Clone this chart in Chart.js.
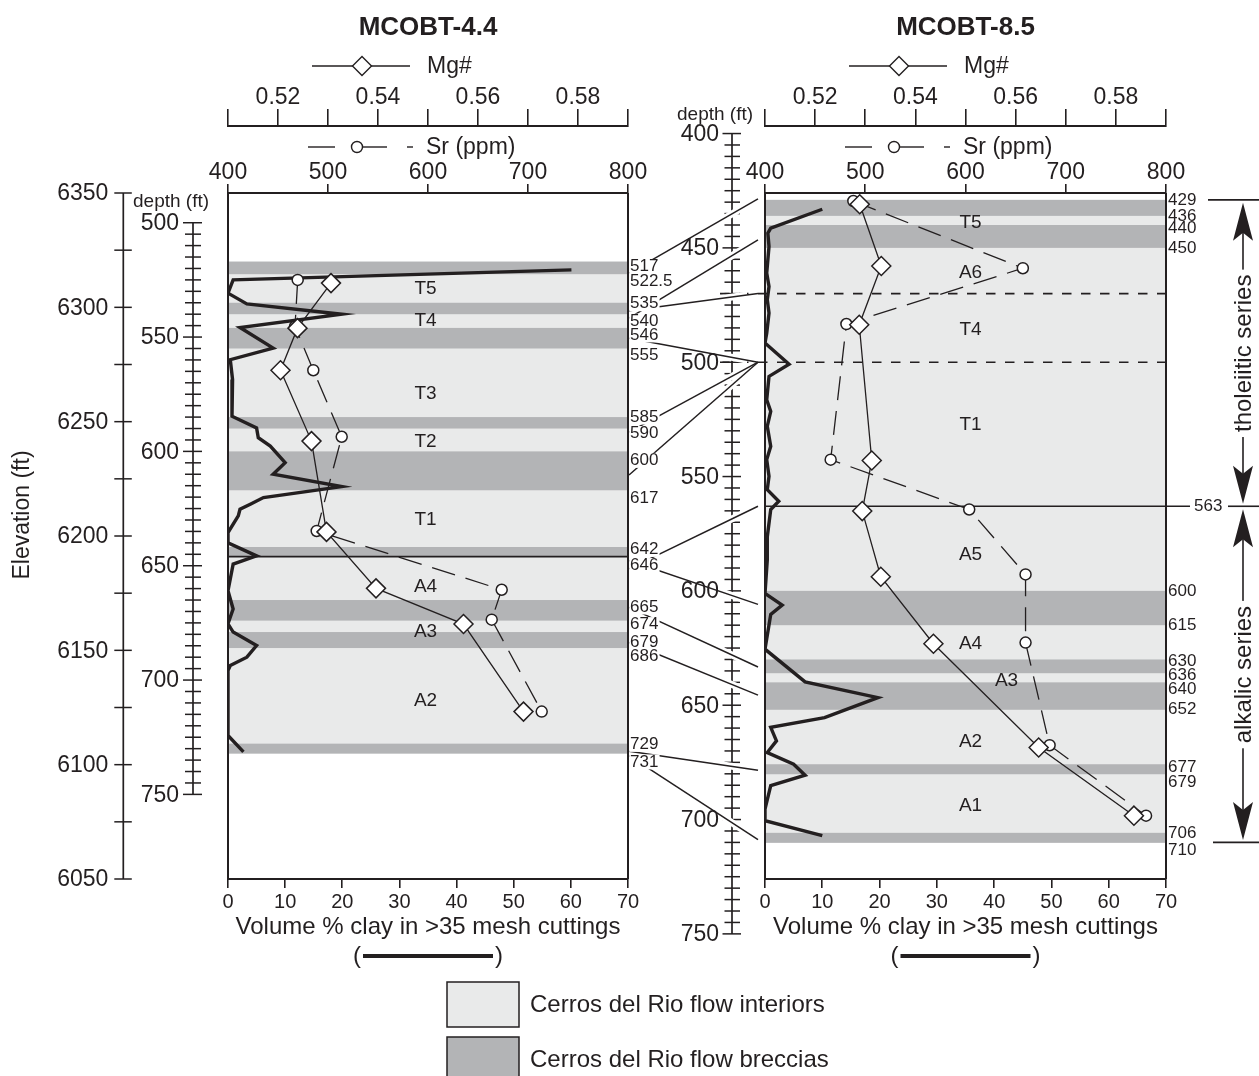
<!DOCTYPE html>
<html>
<head>
<meta charset="utf-8">
<script src="https://cdn.jsdelivr.net/npm/chart.js@4.4.1/dist/chart.umd.min.js"></script>
<style>
  html, body { margin: 0; padding: 0; background: #fff; }
  #wrap { position: relative; width: 1259px; height: 1076px; overflow: hidden; }
  #wrap canvas { position: absolute; left: 0; top: 0; }
</style>
</head>
<body>
<div id="wrap">
  <canvas id="well85" width="1259" height="1076"></canvas>
  <canvas id="well44" width="1259" height="1076"></canvas>
</div>
<script>
const INK = '#231f20';
const LIGHT = '#e9eaea';
const DARK = '#b3b4b6';
const FONT = '"Liberation Sans", Arial, Helvetica, sans-serif';

// ---------- shared tick labels ----------
const mgTickLabels = ['0.52', '0.54', '0.56', '0.58'];
const srTickLabels = ['400', '500', '600', '700', '800'];
const clayTickLabels = ['0', '10', '20', '30', '40', '50', '60', '70'];
const elevTickLabels = [6350, 6300, 6250, 6200, 6150, 6100, 6050];
const depthTickLabels44 = [500, 550, 600, 650, 700, 750];
const depthTickLabels85 = [400, 450, 500, 550, 600, 650, 700, 750];

// ---------- MCOBT-4.4 ----------
const w44ClayDepth = [520.6, 525.0, 530.8, 535.5, 540.0, 545.8, 554.8, 559.9, 568.6, 584.6, 589.7, 594.0,
  597.7, 604.9, 610.0, 615.4, 620.2, 623.1, 625.3, 628.2, 635.5, 640.0, 645.7, 649.3, 655.8, 660.9,
  668.9, 675.4, 679.0, 684.9, 690.0, 693.6, 695.8, 724.2, 731.4];
const w44Clay = [60.1, 0.9, 0, 3.3, 19.9, 2.1, 7.9, 0.4, 0.8, 0.7, 5.0, 5.3,
  7.4, 10.0, 7.9, 19.9, 6.2, 3.9, 2.1, 1.8, 0, 0, 5.0, 0.9, 0.4, 0,
  0.9, 0, 0.9, 5.0, 3.3, 0.4, 0, 0, 2.7];
const w44MgDepth = [526.4, 546.1, 564.5, 595.5, 635.2, 659.9, 675.5, 713.8];
const w44Mg = [0.5306, 0.5239, 0.5205, 0.5267, 0.5297, 0.5396, 0.5571, 0.5691];
const w44SrDepth = [525.0, 545.4, 564.5, 593.6, 634.8, 660.5, 673.6, 713.8];
const w44Sr = [469.7, 467.0, 485.3, 513.7, 488.7, 673.7, 663.7, 713.7];
const w44FlowSpan = [517, 731];
const w44BrecciaTop = [517, 535, 546, 585, 600, 642, 665, 679, 729];
const w44BrecciaBase = [522.5, 540, 555, 590, 617, 646, 674, 686, 731];
const w44ContactLabels = ['517', '522.5', '535', '540', '546', '555', '585', '590', '600', '617',
  '642', '646', '665', '674', '679', '686', '729', '731'];
const w44Units = ['T5', 'T4', 'T3', 'T2', 'T1', 'A4', 'A3', 'A2'];
const w44UnitDepth = [529, 543, 575, 596, 630, 659, 679, 709];
const w44SeriesContact = 646;

// ---------- MCOBT-8.5 ----------
const w85ClayDepth = [433.1, 441.4, 443.6, 449.4, 461.0, 466.9, 472.7, 478.5, 487.3, 491.6, 500.9, 506.2,
  516.4, 521.5, 528.0, 536.8, 542.6, 549.9, 555.7, 560.8, 564.4, 576.3, 586.5, 601.1, 606.2, 610.3,
  625.5, 639.8, 646.7, 655.4, 659.7, 665.6, 670.7, 675.8, 680.6, 685.2, 695.4, 700.5, 707.0];
const w85Clay = [10.0, 1.0, 0.5, 0.7, 0.3, 0.7, 0.4, 0.7, 0.3, 0, 4.2, 0.7,
  0.3, 1.0, 0.4, 1.0, 0.3, 0.7, 0.4, 2.4, 1.0, 0.4, 0.4, 0, 3.0, 1.0,
  0, 7.0, 19.7, 10.4, 1.0, 2.0, 0.4, 5.0, 7.0, 1.0, 0, 0, 10.0];
const w85MgDepth = [430.9, 457.9, 483.6, 543.0, 565.1, 593.8, 623.1, 668.5, 698.3];
const w85Mg = [0.5289, 0.5332, 0.5288, 0.5313, 0.5294, 0.5331, 0.5436, 0.5646, 0.5836];
const w85SrDepth = [429.5, 458.9, 483.3, 542.6, 564.4, 592.8, 622.6, 667.5, 698.3];
const w85Sr = [488.1, 657.2, 481.2, 465.5, 603.7, 659.9, 659.9, 683.9, 780.1];
const w85FlowSpan = [429, 710];
const w85BrecciaTop = [429, 440, 600, 630, 640, 677, 706];
const w85BrecciaBase = [436, 450, 615, 636, 652, 679, 710];
const w85ContactLabels = ['429', '436', '440', '450', '600', '615', '630', '636', '640', '652',
  '677', '679', '706', '710'];
const w85Units = ['T5', 'A6', 'T4', 'T1', 'A5', 'A4', 'A3', 'A2', 'A1'];
const w85UnitDepth = [439, 461, 486, 527.5, 584, 623, 639.5, 666, 694];
const w85DashedContacts = [470, 500];
const w85SeriesContact = 563;
const w85SeriesNames = ['tholeiitic series', 'alkalic series'];
const w85SeriesTop = [429, 563];
const w85SeriesBase = [563, 710];

// ---------- correlation lines between the two wells ----------
const tieDepth44 = [522.0, 541.7, 538.5, 550.5, 591.6, 610.3, 651.4, 647.7, 668.2, 683.6, 731.1, 733.0];
const tieDepth85 = [428.6, 446.5, 470, 500, 500, 500, 563, 605.9, 633.3, 645.6, 678.4, 708.8];

// ---------- legend ----------
const legendNames = ['Cerros del Rio flow interiors', 'Cerros del Rio flow breccias'];

Chart.defaults.font.family = FONT;
Chart.defaults.color = INK;

// ---------- drawing helpers ----------
function font(size, weight) { return (weight ? weight + ' ' : '') + size + 'px ' + FONT; }
function seg(ctx, x1, y1, x2, y2) { ctx.beginPath(); ctx.moveTo(x1, y1); ctx.lineTo(x2, y2); ctx.stroke(); }
function txt(ctx, s, x, y, size, align, baseline) {
  ctx.font = font(size); ctx.fillStyle = INK;
  ctx.textAlign = align || 'left'; ctx.textBaseline = baseline || 'middle';
  ctx.fillText(s, x, y);
}
function diamond(ctx, x, y, r) {
  ctx.beginPath(); ctx.moveTo(x - r, y); ctx.lineTo(x, y - r); ctx.lineTo(x + r, y); ctx.lineTo(x, y + r);
  ctx.closePath(); ctx.fillStyle = '#fff'; ctx.fill(); ctx.stroke();
}
function ring(ctx, x, y, r) {
  ctx.beginPath(); ctx.arc(x, y, r, 0, Math.PI * 2); ctx.fillStyle = '#fff'; ctx.fill(); ctx.stroke();
}
// depth / elevation ruler with ticks crossing the spine
function ladder(ctx, scale, x, from, to, step, labels, geo) {
  const py = v => scale.getPixelForValue(v);
  ctx.save();
  ctx.strokeStyle = INK;
  ctx.lineWidth = 1.7;
  seg(ctx, x, py(from), x, py(to));
  ctx.lineWidth = 1.5;
  const n = Math.round((to - from) / step);
  for (let i = 0; i <= n; i++) {
    const v = from + i * step;
    const major = labels.includes(v);
    const yy = py(v);
    seg(ctx, x - (major ? geo.majorLeft : geo.left), yy, x + (major ? geo.majorRight : geo.right), yy);
  }
  labels.forEach(v => txt(ctx, String(v), x - geo.gap, py(v) + 1, 23, 'right'));
  ctx.restore();
}
function arrowHead(ctx, x, tipY, dir) {
  const len = 38, half = 10, notch = 8;
  ctx.beginPath();
  ctx.moveTo(x, tipY);
  ctx.lineTo(x - half, tipY + dir * len);
  ctx.lineTo(x, tipY + dir * (len - notch));
  ctx.lineTo(x + half, tipY + dir * len);
  ctx.closePath();
  ctx.fill();
}

const MIN_BAND = 10; // thinnest breccia band kept visible, px

// per-well panel: bands, unit names, contacts, frame, axis legends
function panelPlugin(w) {
  return {
    id: 'panel',
    beforeDatasetsDraw(chart) {
      const { ctx, chartArea: a, scales } = chart;
      const y = v => scales.depth.getPixelForValue(v);
      ctx.save();
      ctx.fillStyle = LIGHT;
      ctx.fillRect(a.left, y(w.flowSpan[0]), a.right - a.left, y(w.flowSpan[1]) - y(w.flowSpan[0]));
      ctx.fillStyle = DARK;
      w.brecciaTop.forEach((t, i) => {
        let y0 = y(t), y1 = y(w.brecciaBase[i]);
        if (y1 - y0 < MIN_BAND) { const m = (y0 + y1) / 2; y0 = m - MIN_BAND / 2; y1 = m + MIN_BAND / 2; }
        ctx.fillRect(a.left, y0, a.right - a.left, y1 - y0);
      });
      // unit names
      const cx = (a.left + a.right) / 2 + w.unitShift;
      w.units.forEach((u, i) => txt(ctx, u, cx + (w.unitNudge[u] || 0), y(w.unitDepth[i]), 19, 'center'));
      // contacts
      ctx.strokeStyle = INK;
      ctx.lineWidth = 1.6;
      if (w.dashed) {
        ctx.setLineDash([9.5, 9.5]);
        w.dashed.forEach(d => seg(ctx, a.left - 45, y(d), a.right, y(d)));
        ctx.setLineDash([]);
      }
      if (w.seriesLineEnd) seg(ctx, a.left, y(w.seriesContact), w.seriesLineEnd(a), y(w.seriesContact));
      else seg(ctx, a.left, y(w.seriesContact), a.right, y(w.seriesContact));
      ctx.restore();
    },
    afterDatasetsDraw(chart) {
      const { ctx, chartArea: a } = chart;
      ctx.save();
      ctx.strokeStyle = INK;
      ctx.lineWidth = 2;
      seg(ctx, a.left, a.top, a.left, a.bottom);
      seg(ctx, a.right, a.top, a.right, a.bottom);
      ctx.restore();
    },
    afterDraw(chart) {
      const { ctx, chartArea: a } = chart;
      const L = a.left;
      ctx.save();
      ctx.strokeStyle = INK;
      ctx.lineWidth = 1.4;
      // Mg# key
      let yy = a.top - 127;
      seg(ctx, L + 84, yy, L + 182, yy);
      diamond(ctx, L + 134, yy, 9.5);
      txt(ctx, 'Mg#', L + 199, yy + 1, 23);
      // Sr key
      yy = a.top - 46;
      seg(ctx, L + 80, yy, L + 107, yy);
      ring(ctx, L + 129, yy, 5.5);
      seg(ctx, L + 134, yy, L + 159, yy);
      seg(ctx, L + 179, yy, L + 185, yy);
      txt(ctx, 'Sr (ppm)', L + 198, yy + 1, 23);
      // clay key
      yy = a.bottom + 77;
      const c = (a.left + a.right) / 2;
      ctx.lineWidth = 4;
      seg(ctx, c - 65, yy, c + 65, yy);
      txt(ctx, '(', c - 67, yy, 24, 'right');
      txt(ctx, ')', c + 67, yy, 24, 'left');
      ctx.restore();
      if (w.extra) w.extra(chart);
    }
  };
}

function datasets(clayDepth, clay, mgDepth, mg, srDepth, sr) {
  return [
    {
      label: 'Volume % clay', xAxisID: 'clay', yAxisID: 'depth', order: 3,
      data: clayDepth.map((d, i) => ({ x: clay[i], y: d })),
      borderColor: INK, borderWidth: 3.4, pointRadius: 0, pointHoverRadius: 0, tension: 0,
      borderJoinStyle: 'miter', fill: false
    },
    {
      label: 'Sr (ppm)', xAxisID: 'sr', yAxisID: 'depth', order: 2,
      data: srDepth.map((d, i) => ({ x: sr[i], y: d })),
      borderColor: INK, borderWidth: 1.3, borderDash: [24, 11], tension: 0, fill: false,
      pointStyle: 'circle', pointRadius: 5.5, pointBackgroundColor: '#fff',
      pointBorderColor: INK, pointBorderWidth: 1.5, pointHoverRadius: 5.5
    },
    {
      label: 'Mg#', xAxisID: 'mg', yAxisID: 'depth', order: 1,
      data: mgDepth.map((d, i) => ({ x: mg[i], y: d })),
      borderColor: INK, borderWidth: 1.3, tension: 0, fill: false,
      pointStyle: 'rectRot', pointRadius: 9.5, pointBackgroundColor: '#fff',
      pointBorderColor: INK, pointBorderWidth: 1.5, pointHoverRadius: 9.5
    }
  ];
}

function scales(depthMin, depthMax, withElev) {
  const tickFont = { family: FONT, size: 23, lineHeight: 1 };
  const grid = (len) => ({ drawOnChartArea: false, drawTicks: true, tickLength: len, color: INK, lineWidth: 1.6 });
  const border = { display: true, color: INK, width: 2 };
  const s = {
    clay: {
      type: 'linear', axis: 'x', position: 'bottom', min: 0, max: 70,
      ticks: {
        stepSize: 10, color: INK, font: { family: FONT, size: 20, lineHeight: 1 }, padding: 4,
        maxRotation: 0, minRotation: 0, autoSkip: false,
        callback: v => { const s = String(Math.round(v)); return clayTickLabels.includes(s) ? s : ''; }
      },
      grid: grid(9), border,
      title: { display: true, text: 'Volume % clay in >35 mesh cuttings', color: INK,
        font: { family: FONT, size: 24, lineHeight: 1.2 }, padding: { top: 0, bottom: 0 } },
      afterFit: sc => { sc.height = 62.8; }
    },
    sr: {
      type: 'linear', axis: 'x', position: 'top', weight: 0, min: 400, max: 800,
      ticks: {
        stepSize: 100, color: INK, font: tickFont, padding: 0, maxRotation: 0, minRotation: 0, autoSkip: false,
        callback: v => { const s = String(Math.round(v)); return srTickLabels.includes(s) ? s : ''; }
      },
      grid: grid(9), border,
      afterFit: sc => { sc.height = 67; }
    },
    mg: {
      type: 'linear', axis: 'x', position: 'top', weight: 1, min: 0.51, max: 0.59,
      ticks: {
        stepSize: 0.01, color: INK, font: tickFont, padding: 0, maxRotation: 0, minRotation: 0, autoSkip: false,
        callback: v => { const s = v.toFixed(2); return mgTickLabels.includes(s) ? s : ''; }
      },
      grid: grid(17), border,
      afterFit: sc => { sc.height = 82.8; }
    },
    depth: { type: 'linear', axis: 'y', display: false, reverse: true, min: depthMin, max: depthMax }
  };
  if (withElev) s.elev = { type: 'linear', axis: 'y', display: false, min: 6050, max: 6350 };
  return s;
}

function chartConfig(title, padLeft, padRight, ds, sc, plugin) {
  return {
    type: 'line',
    data: { datasets: ds },
    options: {
      responsive: false, animation: false, devicePixelRatio: 1, indexAxis: 'y',
      layout: { padding: { left: padLeft, right: padRight, top: 0, bottom: 134.2 } },
      events: [],
      plugins: {
        legend: { display: false }, tooltip: { enabled: false },
        title: { display: true, text: title, fullSize: false, color: INK,
          font: { family: FONT, size: 26, weight: 'bold', lineHeight: 1.2 }, padding: { top: 12, bottom: 0 } }
      },
      scales: sc
    },
    plugins: [plugin]
  };
}

// ---------- MCOBT-8.5 (drawn first, underneath) ----------
const rightNudge = { '440': 3, '630': 2, '636': 2, '640': 7, '679': 11, '710': 8 };
const rightChart = new Chart(document.getElementById('well85'), chartConfig(
  'MCOBT-8.5', 765, 93,
  datasets(w85ClayDepth, w85Clay, w85MgDepth, w85Mg, w85SrDepth, w85Sr),
  scales(426, 726, false),
  panelPlugin({
    flowSpan: w85FlowSpan, brecciaTop: w85BrecciaTop, brecciaBase: w85BrecciaBase,
    units: w85Units, unitDepth: w85UnitDepth, unitShift: 5, unitNudge: { A3: 36 },
    dashed: w85DashedContacts, seriesContact: w85SeriesContact, seriesLineEnd: a => a.right + 24,
    extra(chart) {
      const { ctx, chartArea: a, scales: s } = chart;
      const y = v => s.depth.getPixelForValue(v);
      ladder(ctx, s.depth, a.left - 33, 400, 750, 5, depthTickLabels85,
        { left: 7.5, right: 8, majorLeft: 9.5, majorRight: 9, gap: 13 });
      txt(ctx, 'depth (ft)', a.left - 88, 115, 19, 'left');
      ctx.save();
      w85ContactLabels.forEach(l => txt(ctx, l, a.right + 2, y(parseFloat(l)) + (rightNudge[l] || 0), 17, 'left'));
      txt(ctx, String(w85SeriesContact), a.right + 28, y(w85SeriesContact), 17, 'left');
      // series brackets
      const ax = a.right + 77;
      ctx.strokeStyle = INK; ctx.fillStyle = INK; ctx.lineWidth = 1.6;
      seg(ctx, a.right + 42, y(w85SeriesTop[0]), 1259, y(w85SeriesTop[0]));
      seg(ctx, a.right + 62, y(w85SeriesContact), 1259, y(w85SeriesContact));
      seg(ctx, a.right + 47, y(w85SeriesBase[1]), 1259, y(w85SeriesBase[1]));
      w85SeriesNames.forEach((name, i) => {
        const t = y(w85SeriesTop[i]) + 3, b = y(w85SeriesBase[i]) - 2.5;
        ctx.fillStyle = INK;
        seg(ctx, ax, t + 10, ax, b - 10);
        arrowHead(ctx, ax, t, 1);
        arrowHead(ctx, ax, b, -1);
        const m = (t + b) / 2;
        ctx.save();
        ctx.translate(ax, m);
        ctx.rotate(-Math.PI / 2);
        ctx.font = font(24);
        const wdt = ctx.measureText(name).width;
        ctx.fillStyle = '#fff';
        ctx.fillRect(-wdt / 2 - 5, -13, wdt + 10, 26);
        txt(ctx, name, 0, 1, 24, 'center');
        ctx.restore();
      });
      ctx.restore();
    }
  })
));

// ---------- MCOBT-4.4 (on top, carries the tie lines) ----------
const leftNudge = { '517': -2, '535': -6, '585': -7, '590': -2, '600': 2, '617': 1, '642': -5,
  '646': 2, '674': -3, '679': 3, '686': 1, '729': -9, '731': 4 };
const leftChart = new Chart(document.getElementById('well44'), chartConfig(
  'MCOBT-4.4', 228, 631,
  datasets(w44ClayDepth, w44Clay, w44MgDepth, w44Mg, w44SrDepth, w44Sr),
  scales(487, 787, true),
  panelPlugin({
    flowSpan: w44FlowSpan, brecciaTop: w44BrecciaTop, brecciaBase: w44BrecciaBase,
    units: w44Units, unitDepth: w44UnitDepth, unitShift: -2.5, unitNudge: {},
    seriesContact: w44SeriesContact,
    extra(chart) {
      const { ctx, chartArea: a, scales: s } = chart;
      const y = v => s.depth.getPixelForValue(v);
      // elevation and depth rulers
      ladder(ctx, s.elev, a.left - 104.7, 6050, 6350, 25, elevTickLabels,
        { left: 9, right: 8.5, majorLeft: 9, majorRight: 8.5, gap: 15 });
      ladder(ctx, s.depth, a.left - 35, 500, 750, 5, depthTickLabels44,
        { left: 8, right: 8, majorLeft: 10, majorRight: 9, gap: 14 });
      txt(ctx, 'depth (ft)', a.left - 95, 202, 19, 'left');
      ctx.save();
      ctx.translate(22.5, 515);
      ctx.rotate(-Math.PI / 2);
      txt(ctx, 'Elevation (ft)', 0, 0, 23, 'center');
      ctx.restore();
      // tie lines to MCOBT-8.5; the 8.5 depth ruler is broken where they cross it
      const r = rightChart;
      const rx = r.chartArea.left - 7;
      const ry = i => r.scales.depth.getPixelForValue(tieDepth85[i]);
      ctx.save();
      ctx.beginPath();
      ctx.rect(r.chartArea.left - 47, 0, 29, 1076);
      ctx.clip();
      ctx.strokeStyle = '#fff'; ctx.lineWidth = 7;
      tieDepth44.forEach((d, i) => seg(ctx, a.right + 1, y(d), rx, ry(i)));
      ctx.restore();
      ctx.save();
      ctx.strokeStyle = INK; ctx.lineWidth = 1.5;
      tieDepth44.forEach((d, i) => seg(ctx, a.right + 1, y(d), rx, ry(i)));
      // contact depths (masking the tie lines underneath)
      ctx.font = font(17);
      w44ContactLabels.forEach(l => {
        const yy = y(parseFloat(l)) + 7 + (leftNudge[l] || 0);
        const wdt = ctx.measureText(l).width;
        ctx.fillStyle = '#fff';
        ctx.fillRect(a.right + 1.2, yy - 7.5, wdt + 2, 15);
        txt(ctx, l, a.right + 2, yy, 17, 'left');
        ctx.font = font(17);
      });
      // flow-type key
      [LIGHT, DARK].forEach((fill, i) => {
        const top = 982 + i * 55;
        ctx.fillStyle = fill;
        ctx.fillRect(447, top, 72, 45);
        ctx.strokeStyle = INK; ctx.lineWidth = 1.5;
        ctx.strokeRect(447, top, 72, 45);
        txt(ctx, legendNames[i], 530, top + 23, 24, 'left');
      });
      ctx.restore();
    }
  })
));
</script>
</body>
</html>
